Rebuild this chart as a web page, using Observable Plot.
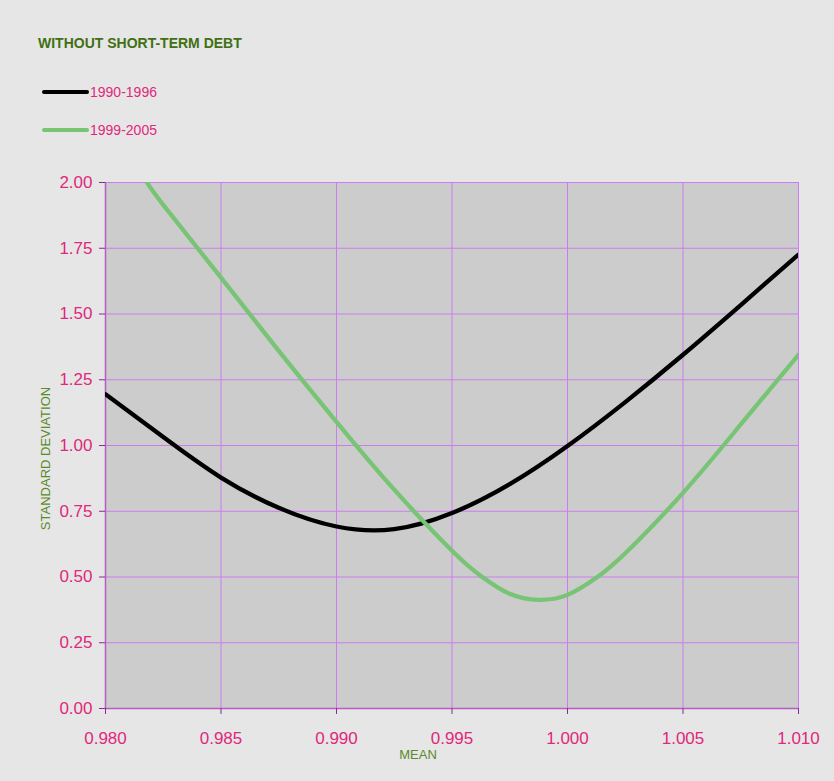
<!DOCTYPE html>
<html>
<head>
<meta charset="utf-8">
<script src="https://cdn.jsdelivr.net/npm/d3@7"></script>
<script src="https://cdn.jsdelivr.net/npm/@observablehq/plot@0.6"></script>
<style>
  body { margin:0; background:#e6e6e6; font-family:"Liberation Sans", Arial, sans-serif; }
  #wrap { position:relative; width:834px; height:781px; background:#e6e6e6; }
  #title { position:absolute; left:38px; top:35px; font-size:14px; font-weight:bold; color:#3f7012; }
  .leg { position:absolute; left:42px; font-size:14px; color:#e0287c; display:flex; align-items:center; }
  .leg span.sw { display:inline-block; width:47px; height:4px; border-radius:2px; margin-right:1px; }
  #chart { position:absolute; left:0; top:0; }
</style>
</head>
<body>
<div id="wrap">
  <div id="chart"></div>
  <div id="title">WITHOUT SHORT-TERM DEBT</div>
  <div id="legend"></div>
</div>
<script>
const seriesNames = ["1990-1996", "1999-2005"];
const seriesColors = ["#000000", "#78c475"];

const mean1990 = [0.980, 0.9825, 0.985, 0.9875, 0.990, 0.9925, 0.995, 0.9975, 1.000, 1.0025, 1.005, 1.0075, 1.010];
const sd1990   = [1.195, 1.032,  0.878, 0.763,  0.692, 0.682,  0.743, 0.853,  0.998, 1.165,  1.345, 1.534,  1.726];

const mean1999 = [0.9818, 0.9825, 0.985, 0.9875, 0.990, 0.9925, 0.995, 0.99625, 0.9975, 0.99875, 1.000, 1.00125, 1.0025, 1.005, 1.0075, 1.010];
const sd1999   = [2.00,   1.915,  1.638, 1.36,   1.09,  0.832,  0.60,  0.504,   0.436,  0.413,   0.432, 0.497,   0.59,   0.82,  1.08,   1.345];

const xTicks = [0.980, 0.985, 0.990, 0.995, 1.000, 1.005, 1.010];
const yTicks = [0, 0.25, 0.5, 0.75, 1.0, 1.25, 1.5, 1.75, 2.0];

const data = [
  ...mean1990.map((m, i) => ({series: seriesNames[0], mean: m, sd: sd1990[i]})),
  ...mean1999.map((m, i) => ({series: seriesNames[1], mean: m, sd: sd1999[i]}))
];

const tickColor = "#e0287c";
const gridColor = "#cc7cf0";
const axisLine = "#b85cc4";
const labelColor = "#5a8a2a";

const chart = Plot.plot({
  width: 834,
  height: 781,
  marginTop: 182,
  marginRight: 36,
  marginBottom: 73,
  marginLeft: 105,
  style: {background: "#e6e6e6", fontFamily: "Liberation Sans, Arial, sans-serif"},
  x: {domain: [0.980, 1.010], ticks: xTicks},
  y: {domain: [0, 2], ticks: yTicks},
  color: {domain: seriesNames, range: seriesColors},
  marks: [
    Plot.frame({fill: "#cccccc", stroke: null}),
    Plot.gridX(xTicks, {stroke: gridColor, strokeOpacity: 1, strokeWidth: 1}),
    Plot.gridY(yTicks, {stroke: gridColor, strokeOpacity: 1, strokeWidth: 1}),
    Plot.ruleX([0.980], {stroke: axisLine, strokeWidth: 1.5}),
    Plot.ruleY([0], {stroke: axisLine, strokeWidth: 1.5}),
    Plot.axisX(xTicks, {tickFormat: d3.format(".3f"), tickSize: 6, tickPadding: 17, stroke: "#8a2a90", fill: tickColor, fontSize: 17, label: null}),
    Plot.axisY(yTicks, {tickFormat: d3.format(".2f"), tickSize: 6, tickPadding: 7, stroke: "#8a2a90", fill: tickColor, fontSize: 17, label: null}),
    Plot.line(data, {x: "mean", y: "sd", z: "series", stroke: "series", strokeWidth: 4.3, curve: "natural", clip: true}),
    Plot.text(["MEAN"], {frameAnchor: "bottom", dx: -34, dy: 50, fill: labelColor, fontSize: 13}),
    Plot.text(["STANDARD DEVIATION"], {frameAnchor: "left", textAnchor: "middle", dx: -60, dy: 13, rotate: -90, fill: labelColor, fontSize: 13})
  ]
});
document.getElementById("chart").appendChild(chart);

const legend = document.getElementById("legend");
seriesNames.forEach((name, i) => {
  const row = document.createElement("div");
  row.className = "leg";
  row.style.top = (84 + i * 38) + "px";
  row.innerHTML = `<span class="sw" style="background:${seriesColors[i]}"></span>${name}`;
  legend.appendChild(row);
});
</script>
</body>
</html>
